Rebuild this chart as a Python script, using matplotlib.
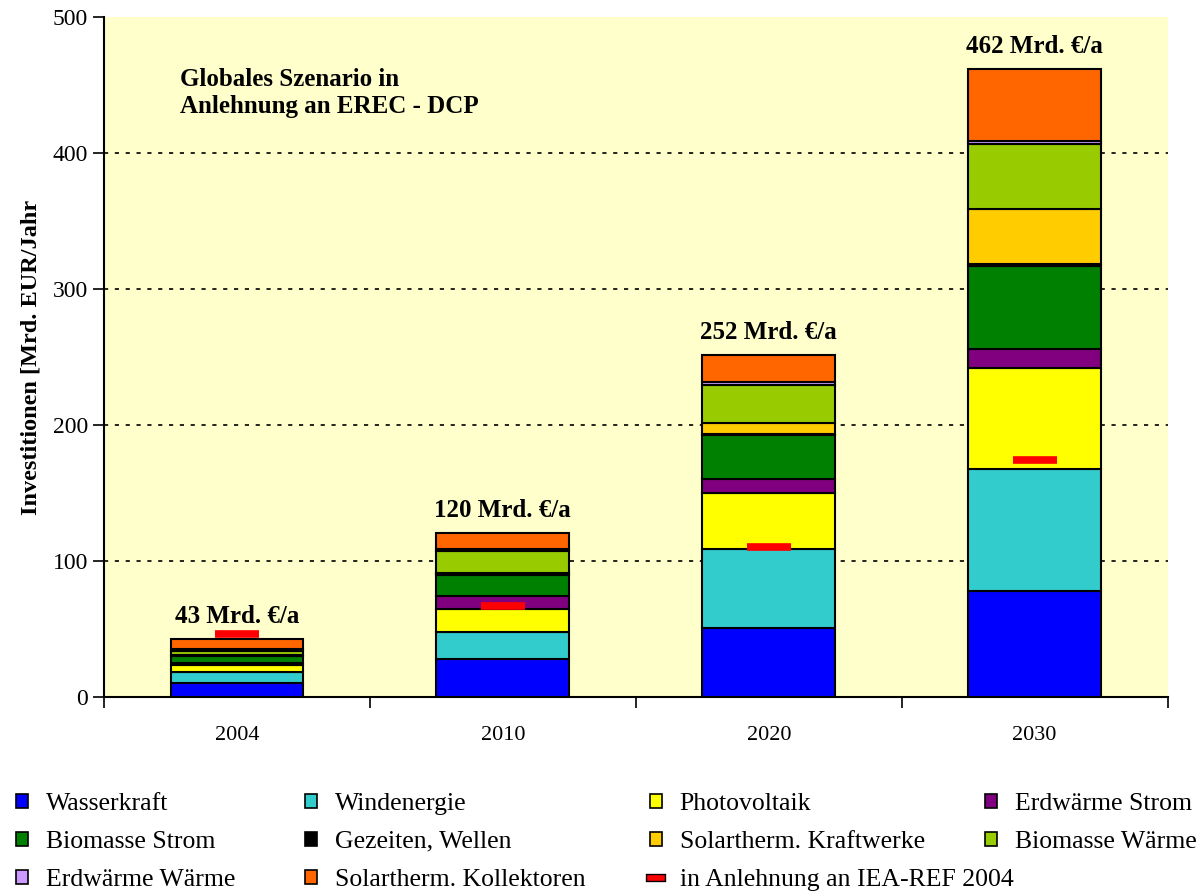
import numpy as np
import matplotlib
matplotlib.use("Agg")
from matplotlib import pyplot as plt
from matplotlib.patches import Patch
from matplotlib.lines import Line2D
import matplotlib.patheffects as pe

plt.rcParams['font.family'] = ['Liberation Serif', 'DejaVu Serif']

# Data (Mrd. EUR / Jahr)
years = ['2004', '2010', '2020', '2030']
wasserkraft = [10.3, 28, 51, 78]
windenergie = [8, 20, 58, 90]
photovoltaik = [5, 17, 41, 74]
erdwaerme_strom = [1.5, 9, 10.5, 14]
biomasse_strom = [5, 15.5, 32, 61]
gezeiten = [0.5, 0.7, 0.7, 1.5]
solar_kraftwerke = [0.3, 0.7, 8.5, 40]
biomasse_waerme = [3.5, 16.5, 27.5, 48]
erdwaerme_waerme = [1, 1.5, 2.5, 2.5]
kollektoren = [7.5, 11.5, 20, 53]
iea_ref = [46, 67, 110, 174]
totals = [43, 120, 252, 462]

series = [
    ('Wasserkraft', wasserkraft, '#0000FF'),
    ('Windenergie', windenergie, '#33CCCC'),
    ('Photovoltaik', photovoltaik, '#FFFF00'),
    ('Erdwärme Strom', erdwaerme_strom, '#800080'),
    ('Biomasse Strom', biomasse_strom, '#008000'),
    ('Gezeiten, Wellen', gezeiten, '#000000'),
    ('Solartherm. Kraftwerke', solar_kraftwerke, '#FFCC00'),
    ('Biomasse Wärme', biomasse_waerme, '#99CC00'),
    ('Erdwärme Wärme', erdwaerme_waerme, '#CC99FF'),
    ('Solartherm. Kollektoren', kollektoren, '#FF6600'),
]

fig = plt.figure(figsize=(12, 8.92), dpi=100)
ax = fig.add_axes([0.0867, 0.2186, 0.8863, 0.7624])
ax.set_facecolor('#FFFFCC')

x = np.arange(len(years))
bottom = np.zeros(len(years))
handles = []
for name, vals, col in series:
    ax.bar(x, vals, 0.5, bottom=bottom, color=col, edgecolor='black',
           linewidth=1.5, zorder=3)
    bottom += np.array(vals)
    handles.append(Patch(facecolor=col, edgecolor='black', linewidth=1.2, label=name))

ax.hlines(iea_ref, x - 0.083, x + 0.083, color='#FF0000', linewidth=5.5, zorder=4)
iea_handle = Line2D([], [], color='#FF0000', lw=4,
                    path_effects=[pe.Stroke(linewidth=6, foreground='black'), pe.Normal()],
                    label='in Anlehnung an IEA-REF 2004')

for xi, tot, top in zip(x, totals, bottom):
    ax.text(xi, top + 8, f'{tot} Mrd. €/a', ha='center', va='bottom',
            fontsize=18, fontweight='bold', zorder=5)

ax.text(0.071, 0.925, 'Globales Szenario in\nAnlehnung an EREC - DCP',
        transform=ax.transAxes, ha='left', va='top', fontsize=18,
        fontweight='bold', linespacing=1.2)

ax.set_xlim(-0.5, 3.5)
ax.set_ylim(0, 500)
ax.set_yticks([0, 100, 200, 300, 400, 500])
for g in [100, 200, 300, 400]:
    ax.axhline(g, color='black', linestyle=(0, (2.5, 4)), linewidth=1.2, zorder=1)
ax.set_xticks(x)
ax.set_xticklabels(years, fontsize=16)
ax.tick_params(axis='x', length=0, pad=21)
ax.set_xticks(np.arange(-0.5, 4, 1), minor=True)
ax.tick_params(axis='x', which='minor', length=8, width=1.2, direction='out')
ax.tick_params(axis='y', labelsize=17, length=8, width=1.2, direction='out')
for s in ['top', 'right']:
    ax.spines[s].set_visible(False)
for s in ['left', 'bottom']:
    ax.spines[s].set_linewidth(1.5)
ax.set_ylabel('Investitionen [Mrd. EUR/Jahr', fontsize=17.5, fontweight='bold', labelpad=8)

# legend: four separate columns placed like the original
h = handles
columns = [
    (16, [h[0], h[4], h[8]]),
    (305, [h[1], h[5], h[9]]),
    (650, [h[2], h[6], iea_handle]),
    (985, [h[3], h[7]]),
]
for xpix, col_handles in columns:
    fig.legend(handles=col_handles, ncol=1, loc='upper left',
               bbox_to_anchor=(xpix / 1200, 1 - 793 / 892),
               frameon=False, fontsize=18.5, handlelength=0.45, handleheight=0.45,
               handletextpad=0.7, labelspacing=0.62, borderaxespad=0, borderpad=0)

fig.savefig('out.png', dpi=100)
